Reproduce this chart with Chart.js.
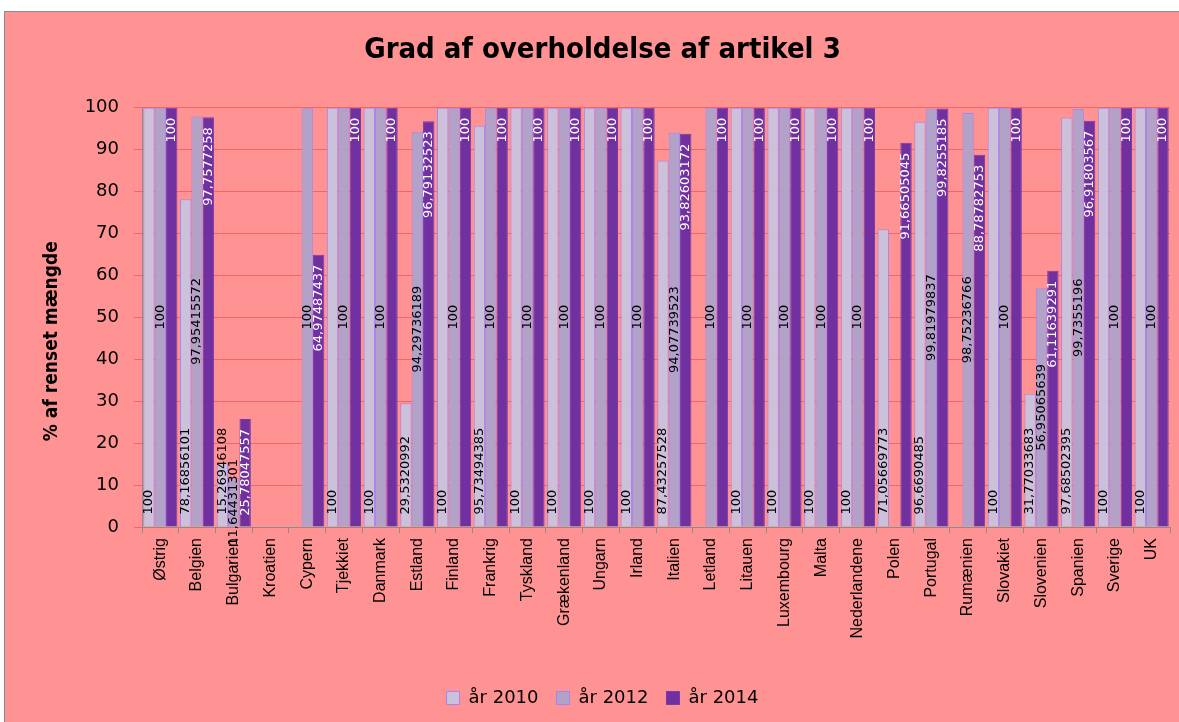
<!DOCTYPE html>
<html lang="da">
<head>
  <meta charset="UTF-8">
  <title>Grad af overholdelse af artikel 3</title>
  <script src="https://cdn.jsdelivr.net/npm/chart.js@4.4.1/dist/chart.umd.min.js"></script>
  <style>
    body { margin: 0; background: #fff; }
    #frame {
      position: absolute; left: 4px; top: 11px;
      width: 1175px; height: 711px;
      border-top: 1px solid #8a8a8a; border-left: 1px solid #8a8a8a;
      background: #FF9393;
    }
  </style>
</head>
<body>
  <div id="frame"><canvas id="chart" width="1174" height="710"></canvas></div>

  <script>
    const countries = ["Østrig", "Belgien", "Bulgarien", "Kroatien", "Cypern", "Tjekkiet", "Danmark", "Estland",
      "Finland", "Frankrig", "Tyskland", "Grækenland", "Ungarn", "Irland", "Italien", "Letland", "Litauen",
      "Luxembourg", "Malta", "Nederlandene", "Polen", "Portugal", "Rumænien", "Slovakiet", "Slovenien",
      "Spanien", "Sverige", "UK"]

    const year2010 = [100, 78.16856101, 15.26946108, null, null, 100, 100, 29.5320992,
      100, 95.73494385, 100, 100, 100, 100, 87.43257528, null, 100,
      100, 100, 100, 71.05669773, 96.6690485, null, 100, 31.77033683,
      97.68502395, 100, 100]

    const year2012 = [100, 97.95415572, 11.64431301, null, 100, 100, 100, 94.29736189,
      100, 100, 100, 100, 100, 100, 94.07739523, 100, 100,
      100, 100, 100, null, 99.81979837, 98.75236766, 100, 56.95065639,
      99.7355196, 100, 100]

    const year2014 = [100, 97.7577258, 25.78047557, null, 64.97487437, 100, 100, 96.79132523,
      100, 100, 100, 100, 100, 100, 93.82603172, 100, 100,
      100, 100, 100, 91.66505045, 99.8255185, 88.78782753, 100, 61.11639291,
      96.91803567, 100, 100]

    const yTicks = [0, 10, 20, 30, 40, 50, 60, 70, 80, 90, 100]

    const narrow = "'DejaVu Sans Condensed', sans-serif"
    const arial = "'Liberation Sans', Arial, sans-serif"
    const wide = "'DejaVu Sans', sans-serif"

    // value labels inside the bars, rotated like the excel original
    const barLabels = {
      id: "barLabels",
      afterDatasetsDraw(chart) {
        const ctx = chart.ctx
        ctx.save()
        ctx.font = "13px " + wide
        ctx.textBaseline = "middle"
        chart.data.datasets.forEach((ds, i) => {
          const meta = chart.getDatasetMeta(i)
          meta.data.forEach((bar, j) => {
            const v = ds.data[j]
            if (v === null || v === undefined) return
            const txt = String(v).replace(".", ",")
            ctx.save()
            if (i === 0) {
              ctx.translate(bar.x, bar.base - 12)
              ctx.textAlign = "left"
              ctx.fillStyle = "#000"
            } else if (i === 1) {
              ctx.translate(bar.x, (bar.y + bar.base) / 2)
              ctx.textAlign = "center"
              ctx.fillStyle = "#000"
            } else {
              ctx.translate(bar.x, bar.y + 10)
              ctx.textAlign = "right"
              ctx.fillStyle = "#fff"
            }
            ctx.rotate(-Math.PI / 2)
            ctx.fillText(txt, 0, 0)
            ctx.restore()
          })
        })
        ctx.restore()
      }
    }

    new Chart(document.getElementById("chart"), {
      type: "bar",
      data: {
        labels: countries,
        datasets: [
          { label: "år 2010", data: year2010, backgroundColor: "#CCC1DA", borderColor: "#A585F2", borderWidth: 1 },
          { label: "år 2012", data: year2012, backgroundColor: "#B3A2C7", borderColor: "#A585F2", borderWidth: 1 },
          { label: "år 2014", data: year2014, backgroundColor: "#7030A0", borderColor: "#7A3AAA", borderWidth: 1 }
        ]
      },
      plugins: [barLabels],
      options: {
        responsive: false,
        animation: false,
        categoryPercentage: 0.93,
        barPercentage: 1,
        layout: { padding: { top: 0, left: 30, right: 9, bottom: 5 } },
        plugins: {
          title: {
            display: true,
            text: "Grad af overholdelse af artikel 3",
            color: "#000",
            font: { family: narrow, size: 29, weight: "bold" },
            padding: { top: 21, bottom: 40 }
          },
          legend: {
            position: "bottom",
            labels: {
              color: "#000",
              boxWidth: 13,
              boxHeight: 13,
              padding: 18,
              font: { family: wide, size: 18 }
            }
          },
          tooltip: { enabled: false }
        },
        scales: {
          x: {
            afterFit(scale) { scale.height = 144 },
            grid: { drawOnChartArea: false, offset: true, tickLength: 6, color: "#8c8c8c" },
            border: { color: "#8c8c8c" },
            ticks: {
              color: "#000",
              autoSkip: false,
              maxRotation: 90,
              minRotation: 90,
              padding: 5,
              font: { family: arial, size: 16 }
            }
          },
          y: {
            min: 0,
            max: 100,
            afterFit(scale) { scale.width = 107 },
            afterBuildTicks(scale) { scale.ticks = yTicks.map(v => ({ value: v })) },
            grid: { color: "#F26666", tickLength: 8 },
            border: { color: "#8c8c8c" },
            ticks: {
              color: "#000",
              padding: 15,
              font: { family: wide, size: 18 }
            },
            title: {
              display: true,
              // trailing spaces push the visible text a little down, as in the original
              text: "% af renset mængde        ",
              color: "#000",
              font: { family: narrow, size: 19, weight: "bold" },
              padding: { top: 6, bottom: 0 }
            }
          }
        }
      }
    })
  </script>
</body>
</html>
